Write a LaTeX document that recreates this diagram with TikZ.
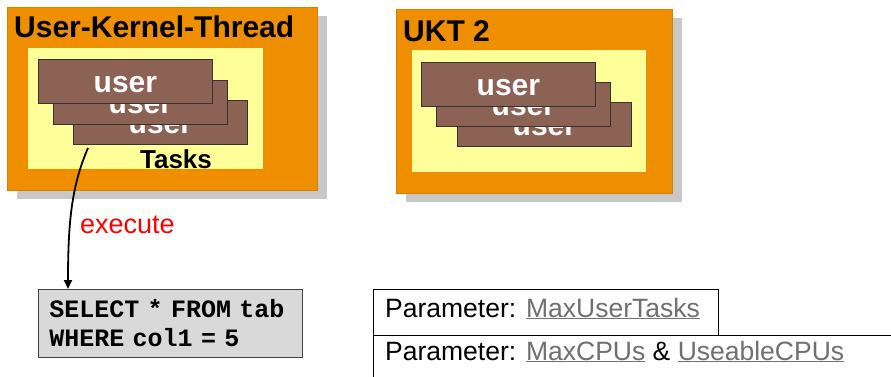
\documentclass[tikz,border=0pt]{standalone}
\usepackage{fontspec}
\setmainfont{Liberation Sans}
\newfontfamily\sqlfont{Liberation Mono}
\usetikzlibrary{arrows.meta,shadows}
\definecolor{uktorange}{HTML}{EF8F00}
\definecolor{taskyellow}{HTML}{FFFF99}
\definecolor{userbrown}{HTML}{8C6255}
\definecolor{shadowgray}{HTML}{C8C8C8}
\definecolor{sqlgray}{HTML}{D9D9D9}
\definecolor{linkgray}{HTML}{707070}
\begin{document}
\begin{tikzpicture}[x=1pt,y=-1pt,
  uktbox/.style={fill=uktorange, draw=uktorange!90!black, line width=0.5pt, anchor=north west, inner sep=0pt,
    drop shadow={shadow xshift=10pt, shadow yshift=-9pt, fill=shadowgray, opacity=1}},
  taskarea/.style={fill=taskyellow, draw=none, anchor=north west, inner sep=0pt},
  userbox/.style={fill=userbrown, draw=black!80, line width=0.8pt, anchor=north west, inner sep=0pt,
    minimum width=174pt, minimum height=44pt, text=white, font=\fontsize{30}{30}\selectfont\bfseries,
    text height=22pt, text depth=0pt},
  title/.style={anchor=base west, inner sep=0pt, font=\fontsize{30}{30}\selectfont\bfseries},
  parbox/.style={draw=black, line width=0.8pt, fill=white, anchor=north west, inner sep=0pt},
  partext/.style={anchor=base west, inner sep=0pt, font=\fontsize{26.5}{26.5}\selectfont},
  link/.style={text=linkgray}
]
\useasboundingbox (0,0) rectangle (891,377);

% --- box 1
\node[uktbox, minimum width=310pt, minimum height=183pt] (ukt1) at (7,7) {};
\node[title] (ukt1title) at (14,38) {User-Kernel-Thread};
\node[taskarea, minimum width=235pt, minimum height=121pt] (tasks1) at (28,48) {};
\node[userbox] (u1c) at (73,100) {user};
\node[userbox] (u1b) at (53,80) {user};
\node[userbox] (u1a) at (38,59) {user};
\node[anchor=base, inner sep=0pt, font=\fontsize{26}{26}\selectfont\bfseries] (tasks1lbl) at (176,168) {Tasks};

% --- box 2
\node[uktbox, minimum width=276pt, minimum height=184pt] (ukt2) at (396,9) {};
\node[title] (ukt2title) at (403,42) {UKT 2};
\node[taskarea, minimum width=234pt, minimum height=122pt] (tasks2) at (412,50) {};
\node[userbox] (u2c) at (457,102) {user};
\node[userbox] (u2b) at (436,82) {user};
\node[userbox] (u2a) at (421,62) {user};

% --- SQL box
\node[fill=sqlgray, draw=black!75, line width=0.8pt, anchor=north west, inner xsep=11pt, inner ysep=0pt,
  minimum width=264pt, minimum height=68pt, text width=242pt, align=left,
  font=\sqlfont\fontsize{25}{29}\selectfont\bfseries] (sql) at (38,289)
  {SELECT * FROM tab\\WHERE col1 = 5};

% --- execute arrow
\coordinate (taskout) at (88,148);
\draw[line width=1.8pt, -{Triangle[length=9pt,width=8pt]}]
  (taskout) .. controls (72,185) and (68,220) .. ([xshift=30pt]sql.north west);
\node[anchor=base west, inner sep=0pt, text=red, font=\fontsize{27}{27}\selectfont] (exec) at (80,233) {execute};

% --- parameter boxes
\node[parbox, minimum width=540pt, minimum height=60pt] (par2) at (373,335) {};
\node[parbox, minimum width=345pt, minimum height=46pt] (par1) at (373,289) {};
\node[partext] (par1txt) at (385,317) {Parameter: \textcolor{linkgray}{\underline{MaxUserTasks}}};
\node[partext] (par2txt) at (385,360) {Parameter: \textcolor{linkgray}{\underline{MaxCPUs}} \& \textcolor{linkgray}{\underline{UseableCPUs}}};
\end{tikzpicture}
\end{document}
